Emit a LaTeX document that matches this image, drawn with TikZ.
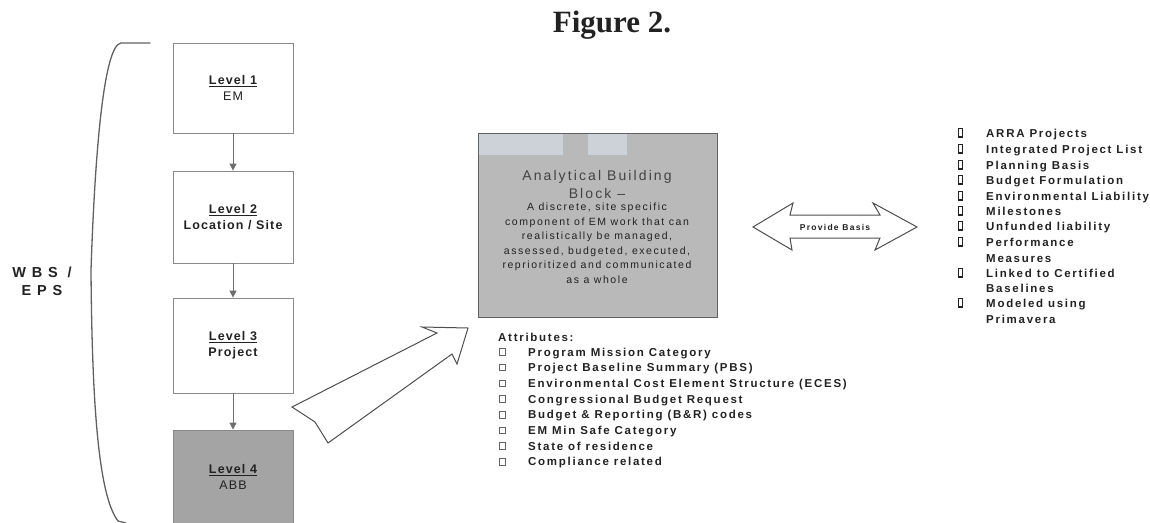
\documentclass[tikz,border=0pt]{standalone}
\usepackage{fontspec}
\setmainfont{Liberation Sans}
\newfontfamily\titlefont{Liberation Serif}
\newfontfamily\tracked[LetterSpace=15]{Liberation Sans}
\newfontfamily\lighttracked[LetterSpace=9]{Liberation Sans}
\newfontfamily\widetracked[LetterSpace=40]{Liberation Sans}
\usetikzlibrary{arrows.meta}
\definecolor{ink}{HTML}{222222}
\definecolor{rule}{HTML}{8A8A8A}
\definecolor{darkfill}{HTML}{A4A4A4}
\definecolor{midfill}{HTML}{B9B9B9}
\definecolor{stipple}{HTML}{CDD1D8}
\tikzset{
  levelbox/.style={draw=rule, line width=0.8pt, fill=white, minimum width=120pt,
    align=center, text=ink, font=\lighttracked\bfseries\fontsize{12.5}{15.5}\selectfont},
  conn/.style={draw=rule!80!black, line width=0.8pt, -{Triangle[length=7pt,width=7pt]}},
  hollowarrow/.style={draw=ink!80, line width=1pt, fill=white, line join=miter},
  listtext/.style={anchor=base west, inner sep=0pt, text=ink,
    font=\tracked\bfseries\fontsize{11.5}{12}\selectfont},
  attrbox/.style={draw=ink!70, line width=0.6pt},
  tallbox/.style={draw=ink, line width=1.1pt},
}
\begin{document}
\begin{tikzpicture}[x=1pt,y=-1pt]
\useasboundingbox (0,0) rectangle (1150,522);

% title
\node[text=ink, font=\titlefont\bfseries\fontsize{31}{34}\selectfont] (title) at (612,25) {Figure 2.};

% the bracket grouping the levels
\draw[rule!70!black, line width=1.3pt, line cap=round]
  (150,43) -- (121,43) .. controls (104,45) and (95,150) .. (91,270)
  .. controls (92,400) and (98,495) .. (118,521) -- (126,523);
\node[text=ink, align=center, font=\widetracked\bfseries\fontsize{14.5}{18}\selectfont] (wbs) at (42,281) {WBS /\\EPS};

% level hierarchy
\node[levelbox, minimum height=90pt] (l1) at (233,88) {\underline{Level 1}\\{\mdseries EM}};
\node[levelbox, minimum height=92pt] (l2) at (233,217) {\underline{Level 2}\\Location / Site};
\node[levelbox, minimum height=95pt] (l3) at (233,345.5) {\underline{Level 3}\\Project};
\node[levelbox, minimum height=94pt, fill=darkfill] (l4) at (233,477) {\underline{Level 4}\\{\mdseries ABB}};
\draw[conn] (l1) -- (l2);
\draw[conn] (l2) -- (l3);
\draw[conn] (l3) -- (l4);

% analytical building block
\node[draw=rule!70!black, line width=0.8pt, fill=midfill, minimum width=239pt, minimum height=184pt] (abb) at (597.5,225) {};
\fill[stipple] (479,134) rectangle (563,155);
\fill[stipple] (588,134) rectangle (627,155);
\fill[white] (563,121) rectangle (588,132.5);
\node[text=ink!85, align=center, font=\tracked\fontsize{14}{18}\selectfont] (abbtitle) at (597,184)
  {Analytical Building\\Block –};
\node[text=ink, align=center, font=\tracked\fontsize{10.5}{14.5}\selectfont] (abbdesc) at (597,243)
  {A discrete, site specific\\component of EM work that can\\realistically be managed,\\assessed, budgeted, executed,\\reprioritized and communicated\\as a whole};

% attributes of the block
\node[listtext] (attrhead) at (498,341) {Attributes:};
\foreach \t [count=\i] in {Program Mission Category, Project Baseline Summary (PBS),
  Environmental Cost Element Structure (ECES), Congressional Budget Request,
  Budget \& Reporting (B\&R) codes, EM Min Safe Category, State of residence,
  Compliance related}{
  \pgfmathsetmacro\yy{352+15.7*(\i-1)}
  \draw[attrbox] (499,\yy-3.5) rectangle (505,\yy+3);
  \node[listtext] (attr\i) at (528,\yy+4) {\t};
}

% hollow arrow from the project level up to the block
\draw[hollowarrow] (292,407) -- (437,333) -- (422,327) -- (468,328) -- (457,364)
  -- (452,354) -- (328,443) -- (315,422) -- cycle;

% two-way arrow
\draw[hollowarrow] (753,227) -- (793,203) -- (790,215) -- (880,215) -- (873,203)
  -- (917,227) -- (875,250) -- (880,238) -- (790,238) -- (792,250) -- cycle;
\node[text=ink, font=\tracked\bfseries\fontsize{8.5}{9}\selectfont] (basis) at (835,227) {Provide Basis};

% uses of the block
\foreach \t/\yy in {ARRA Projects/133, Integrated Project List/149, Planning Basis/165,
  Budget Formulation/180, Environmental Liability/196, Milestones/211,
  Unfunded liability/226, Performance/242, Linked to Certified/273, Modeled using/303}{
  \draw[tallbox] (958.5,\yy-4.5) rectangle (962.5,\yy+4);
  \node[listtext] at (986,\yy+4) {\t};
}
\foreach \t/\yy in {Measures/258, Baselines/288, Primavera/319}{
  \node[listtext] at (986,\yy+4) {\t};
}
\end{tikzpicture}
\end{document}
